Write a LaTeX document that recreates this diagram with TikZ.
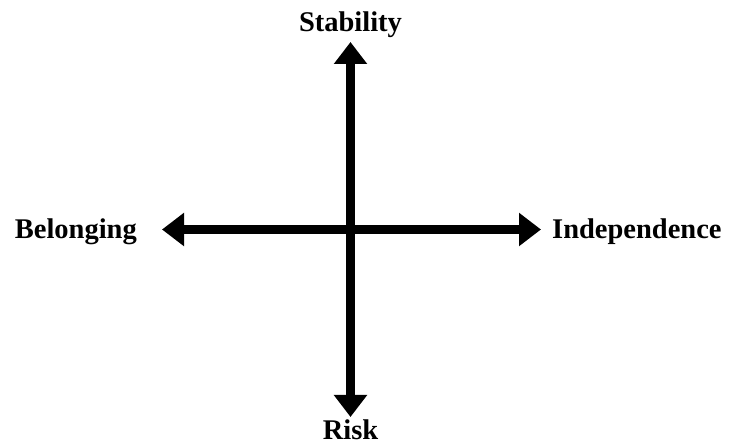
\documentclass[tikz,border=0pt]{standalone}
\usepackage{fontspec}
\setmainfont{Liberation Serif}
\usetikzlibrary{arrows.meta,positioning}
\tikzset{
  axis/.style={line width=9pt, -{Triangle[width=32pt,length=22pt]}},
  pole/.style={font=\bfseries\fontsize{28.5}{34}\selectfont, inner sep=0pt}
}

\begin{document}
\begin{tikzpicture}[x=1pt,y=1pt]
    \useasboundingbox (0,0) rectangle (729,444);
    \coordinate (mid) at (350.5,214.5);
    \coordinate (stabtip) at (350.5,402);
    \coordinate (risktip) at (350.5,27);
    \coordinate (belongtip) at (162,214.5);
    \coordinate (indeptip) at (541,214.5);

    \node[pole, above=4pt of stabtip] (stab) {Stability};
    \node[pole, below=3pt of risktip] (risk) {Risk};
    \node[pole, left=25pt of belongtip, yshift=-2pt] (belong) {Belonging};
    \node[pole, right=11pt of indeptip, yshift=-2pt] (indep) {Independence};

    \draw[axis] (mid) -- (stabtip);
    \draw[axis] (mid) -- (risktip);
    \draw[axis] (mid) -- (belongtip);
    \draw[axis] (mid) -- (indeptip);
  \end{tikzpicture}
\end{document}
